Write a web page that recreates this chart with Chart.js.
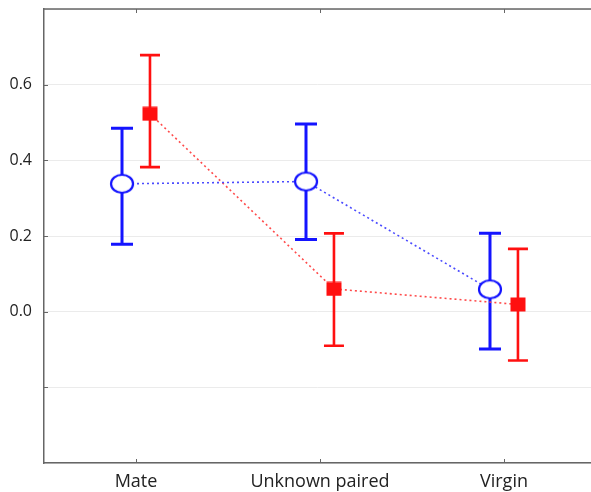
<!DOCTYPE html>
<html>
<head>
<meta charset="utf-8">
<script src="https://cdn.jsdelivr.net/npm/chart.js@4/dist/chart.umd.min.js"></script>
<style>
  html, body { margin: 0; padding: 0; background: #fff; }
  #wrap { width: 591px; height: 492px; position: relative; }
</style>
</head>
<body>
<div id="wrap"><canvas id="chart"></canvas></div>
<script>
  // categories and values
  var categories = ["Mate", "Unknown paired", "Virgin"];
  var yTickLabels = ["0.0", "0.2", "0.4", "0.6"];

  var blueMean  = [0.338, 0.344, 0.059];
  var blueUpper = [0.485, 0.496, 0.207];
  var blueLower = [0.178, 0.191, -0.099];

  var redMean  = [0.523, 0.060, 0.019];
  var redUpper = [0.678, 0.207, 0.166];
  var redLower = [0.382, -0.090, -0.129];

  var blue = "#1414ff";
  var red = "#ff1010";
  var dodge = 0.076;   // side-by-side shift within a category

  function pts(means, shift) {
    return means.map(function (v, i) { return { x: i + shift, y: v }; });
  }

  // open ellipse marker
  var ellipse = document.createElement("canvas");
  ellipse.width = 26; ellipse.height = 22;
  (function () {
    var c = ellipse.getContext("2d");
    c.beginPath();
    c.ellipse(13, 11, 11, 9, 0, 0, Math.PI * 2);
    c.fillStyle = "#fff";
    c.fill();
    c.lineWidth = 2.2;
    c.strokeStyle = blue;
    c.stroke();
  })();

  // filled square marker
  var square = document.createElement("canvas");
  square.width = 16; square.height = 15;
  (function () {
    var c = square.getContext("2d");
    c.fillStyle = red;
    c.fillRect(0.5, 0.5, 15, 14);
  })();

  var errorBars = {
    id: "errorBars",
    beforeDatasetsDraw: function (chart) {
      var ctx = chart.ctx, xs = chart.scales.x, ys = chart.scales.y;
      var sets = [
        { lo: blueLower, hi: blueUpper, shift: -dodge, color: blue, w: 3, cap: 11 },
        { lo: redLower, hi: redUpper, shift: dodge, color: red, w: 2.6, cap: 10 }
      ];
      ctx.save();
      sets.forEach(function (s) {
        ctx.strokeStyle = s.color;
        ctx.lineWidth = s.w;
        for (var i = 0; i < s.lo.length; i++) {
          var x = xs.getPixelForValue(i + s.shift);
          var y1 = ys.getPixelForValue(s.hi[i]);
          var y2 = ys.getPixelForValue(s.lo[i]);
          ctx.beginPath();
          ctx.moveTo(x, y1); ctx.lineTo(x, y2);
          ctx.moveTo(x - s.cap, y1); ctx.lineTo(x + s.cap, y1);
          ctx.moveTo(x - s.cap, y2); ctx.lineTo(x + s.cap, y2);
          ctx.stroke();
        }
      });
      ctx.restore();
    },
    afterDraw: function (chart) {
      var ctx = chart.ctx, a = chart.chartArea, xs = chart.scales.x, ys = chart.scales.y;
      ctx.save();
      ctx.strokeStyle = "#666";
      ctx.lineWidth = 1.5;
      ctx.beginPath();
      ctx.moveTo(a.left, a.top); ctx.lineTo(a.right, a.top);
      ctx.stroke();
      // small inward ticks
      ctx.lineWidth = 1;
      ctx.beginPath();
      categories.forEach(function (c, i) {
        var x = Math.round(xs.getPixelForValue(i)) + 0.5;
        ctx.moveTo(x, a.bottom); ctx.lineTo(x, a.bottom - 4);
        ctx.moveTo(x, a.top); ctx.lineTo(x, a.top + 4);
      });
      [-0.2, 0, 0.2, 0.4, 0.6].forEach(function (v) {
        var y = Math.round(ys.getPixelForValue(v)) + 0.5;
        ctx.moveTo(a.left, y); ctx.lineTo(a.left + 4, y);
      });
      ctx.stroke();
      ctx.restore();
    }
  };

  new Chart(document.getElementById("chart"), {
    type: "line",
    data: {
      datasets: [
        {
          label: "Group A",
          data: pts(blueMean, -dodge),
          borderColor: "#4b4bff",
          borderWidth: 1.6,
          borderDash: [2, 3],
          pointStyle: ellipse,
          pointRadius: 11,
          tension: 0
        },
        {
          label: "Group B",
          data: pts(redMean, dodge),
          borderColor: "#ff4a4a",
          borderWidth: 1.6,
          borderDash: [2, 3],
          pointStyle: square,
          pointRadius: 8,
          tension: 0
        }
      ]
    },
    options: {
      responsive: true,
      maintainAspectRatio: false,
      animation: false,
      layout: { autoPadding: false, padding: { top: 9, right: 0, left: 0, bottom: 0 } },
      plugins: { legend: { display: false }, tooltip: { enabled: false } },
      scales: {
        x: {
          type: "linear",
          min: -0.5,
          max: 2.473,
          afterBuildTicks: function (scale) {
            scale.ticks = categories.map(function (c, i) { return { value: i }; });
          },
          afterFit: function (scale) {
            scale.height = 29;
            scale.paddingLeft = 0; scale.paddingRight = 0;
          },
          grid: { display: false, drawTicks: false },
          border: { display: true, color: "#666", width: 1.5 },
          ticks: {
            padding: 8,
            color: "#222",
            font: { family: "Open Sans", size: 18 },
            callback: function (v) { return categories[v]; }
          }
        },
        y: {
          min: -0.4,
          max: 0.8,
          afterBuildTicks: function (scale) {
            var t = [];
            for (var k = -2; k <= 4; k++) t.push({ value: k * 0.2 });
            scale.ticks = t;
          },
          afterFit: function (scale) {
            scale.width = 44;
            scale.paddingTop = 0; scale.paddingBottom = 0;
          },
          grid: { color: "#ebebeb", lineWidth: 1, drawTicks: false },
          border: { display: true, color: "#666", width: 1.5 },
          ticks: {
            padding: 12,
            color: "#222",
            font: { family: "Open Sans", size: 16 },
            callback: function (v) {
              var s = (Math.round(v * 10) / 10).toFixed(1);
              return yTickLabels.indexOf(s) >= 0 ? s : "";
            }
          }
        }
      }
    },
    plugins: [errorBars]
  });
</script>
</body>
</html>
